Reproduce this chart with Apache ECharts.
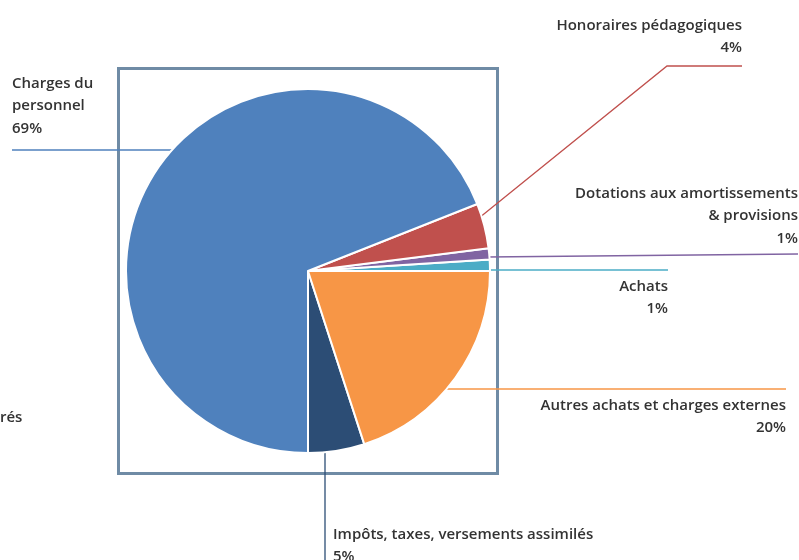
<!DOCTYPE html>
<html>
<head>
<meta charset="utf-8">
<script src="https://cdn.jsdelivr.net/npm/echarts@6/dist/echarts.min.js"></script>
<style>
	html, body { margin: 0; padding: 0; background: #fff; }
	#chart { width: 799px; height: 560px; }
</style>
</head>
<body>
<div id="chart"></div>
<script>
	// parts, listed counterclockwise from 6 o'clock
	var names = ['Impôts, taxes, versements assimilés', 'Autres achats et charges externes', 'Achats', 'Dotations aux amortissements\n& provisions', 'Honoraires pédagogiques', 'Charges du\npersonnel'];
	var values = [5, 20, 1, 1, 4, 69];
	var colors = ['#2c4d75', '#f79646', '#4bacc6', '#8064a2', '#c0504d', '#4f81bd'];

	// label spots (x, y top, align) and leader lines
	var labelPos = [
		{ x: 333, y: 523, align: 'left', line: [[325, 560], [325, 446]] },
		{ x: 786, y: 394, align: 'right', line: [[786, 389], [418, 389]] },
		{ x: 668, y: 275, align: 'right', line: [[668, 270], [488, 270]] },
		{ x: 798, y: 182, align: 'right', line: [[798, 254], [487, 257]] },
		{ x: 742, y: 14, align: 'right', line: [[742, 66], [667, 66], [479, 218]] },
		{ x: 12, y: 72, align: 'left', line: [[12, 150], [236, 150]] }
	];

	var chart = echarts.init(document.getElementById('chart'));
	var pieData = [];
	for (var i = 0; i < names.length; i++) {
		pieData.push({ name: names[i], value: values[i], itemStyle: { color: colors[i] } });
	}

	chart.setOption({
		animation: false,
		graphic: [{
			type: 'rect',
			z: 0,
			shape: { x: 118.5, y: 68.5, width: 379, height: 405 },
			style: { fill: 'none', stroke: '#6f8ba5', lineWidth: 3 }
		}, {
			type: 'text',
			left: 0,
			top: 410,
			style: { text: 'rés', fill: '#333', font: '600 15px "Open Sans"' }
		}],
		series: [{
			type: 'pie',
			z: 2,
			center: [308, 271],
			radius: 182,
			startAngle: 270,
			clockwise: false,
			data: pieData,
			itemStyle: { borderColor: '#fff', borderWidth: 2 },
			label: {
				show: true,
				position: 'outside',
				color: '#333',
				fontFamily: 'Open Sans',
				fontWeight: 600,
				fontSize: 15,
				lineHeight: 22.5,
				formatter: function (p) { return p.name + '\n' + p.value + '%'; }
			},
			labelLine: { show: true, lineStyle: { width: 1.3 } },
			labelLayout: function (p) {
				var l = labelPos[p.dataIndex];
				return {
					x: l.x,
					y: l.y,
					align: l.align,
					verticalAlign: 'top',
					labelLinePoints: l.line
				};
			}
		}]
	});
</script>
</body>
</html>
